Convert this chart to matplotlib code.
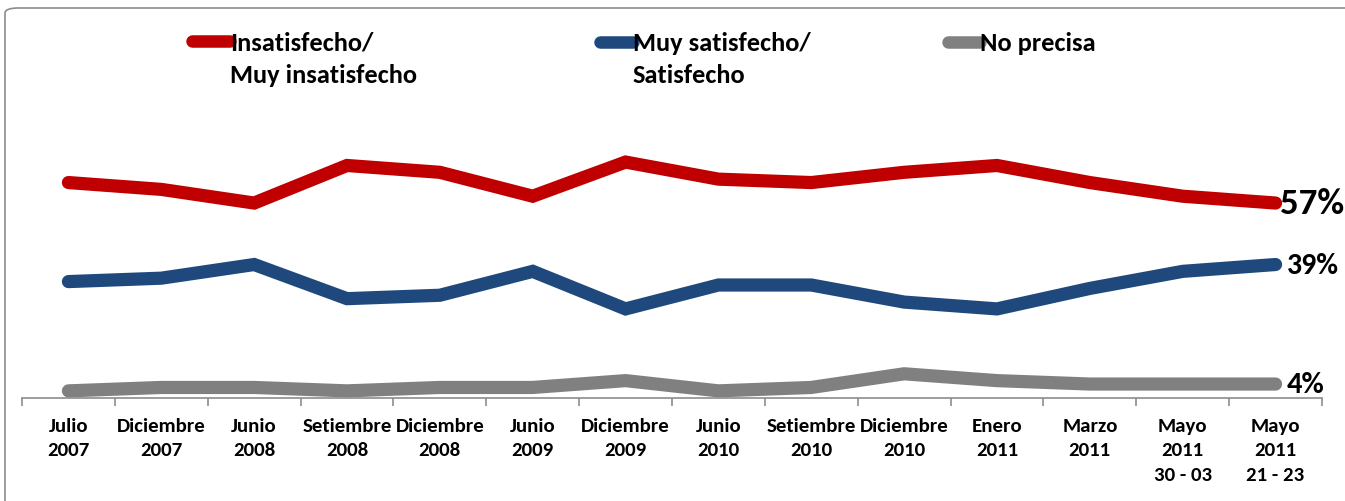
import matplotlib
matplotlib.use("Agg")
import matplotlib.pyplot as plt
from matplotlib.lines import Line2D
from matplotlib.patches import FancyBboxPatch

categories = ["Julio\n2007", "Diciembre\n2007", "Junio\n2008", "Setiembre\n2008",
              "Diciembre\n2008", "Junio\n2009", "Diciembre\n2009", "Junio\n2010",
              "Setiembre\n2010", "Diciembre\n2010", "Enero\n2011", "Marzo\n2011",
              "Mayo\n2011\n30 - 03", "Mayo\n2011\n21 - 23"]
insatisfecho = [63, 61, 57, 68, 66, 59, 69, 64, 63, 66, 68, 63, 59, 57]
satisfecho = [34, 35, 39, 29, 30, 37, 26, 33, 33, 28, 26, 32, 37, 39]
no_precisa = [2, 3, 3, 2, 3, 3, 5, 2, 3, 7, 5, 4, 4, 4]
series_names = ["Insatisfecho/\nMuy insatisfecho", "Muy satisfecho/\nSatisfecho", "No precisa"]
end_labels = ["57%", "39%", "4%"]

colors = ["#C00000", "#1F497D", "#808080"]
FONT = ["Carlito", "Lato"]

W, H = 1345, 502
fig = plt.figure(figsize=(W / 100, H / 100), dpi=100)
fig.patch.set_facecolor("white")

# border
fig.patches.append(FancyBboxPatch((5 / W, -0.1), 1.2, (H - 9) / H + 0.1,
                                  boxstyle="round,pad=0,rounding_size=0.01",
                                  transform=fig.transFigure, fill=False,
                                  edgecolor="#8c8c8c", lw=1.2))

ax_left = 22 / W
ax_w = 1300 / W
ax_bottom = (H - 398.7) / H
ax_h = 80 * 3.415 / H
ax = fig.add_axes([ax_left, ax_bottom, ax_w, ax_h])
ax.set_facecolor("none")

x = list(range(len(categories)))
data = [insatisfecho, satisfecho, no_precisa]
for vals, c in zip(data, colors):
    ax.plot(x, vals, color=c, lw=9.5, solid_capstyle="round", solid_joinstyle="miter",
            clip_on=False)

ax.set_xlim(-0.5, len(categories) - 0.5)
ax.set_ylim(0, 80)
for s in ["left", "right", "top"]:
    ax.spines[s].set_visible(False)
ax.spines["bottom"].set_color("#8c8c8c")
ax.spines["bottom"].set_linewidth(1.2)
ax.set_yticks([])
ax.set_xticks([i - 0.5 for i in range(len(categories) + 1)])
ax.set_xticklabels([])
ax.tick_params(axis="x", direction="out", length=6, color="#8c8c8c", width=1.2)
for i, lab in enumerate(categories):
    ax.text(i, -0.07, lab, transform=ax.get_xaxis_transform(), ha="center", va="top",
            fontsize=15, fontweight="bold", family=FONT, linespacing=1.53)

sizes = [26.5, 21.5, 22]
offs = [3.5, 8, 8]
for vals, lab, fs, o in zip(data, end_labels, sizes, offs):
    ax.annotate(lab, (x[-1], vals[-1]), xytext=(o, 0), textcoords="offset points",
                ha="left", va="center", fontsize=fs, fontweight="bold", family=FONT,
                annotation_clip=False)

# legend
leg = [(192, 230, 42), (600, 633, 43), (948, 980, 43)]
for (x0, x1, yy), c, name in zip(leg, colors, series_names):
    fig.add_artist(Line2D([x0 / W, x1 / W], [1 - yy / H, 1 - yy / H], color=c, lw=9,
                          solid_capstyle="round", transform=fig.transFigure))
    fig.text(x1 / W, 1 - 32 / H, name, ha="left", va="top", fontsize=19,
             fontweight="bold", family=FONT, linespacing=1.5)

fig.savefig("out.png", dpi=100, facecolor="white")
